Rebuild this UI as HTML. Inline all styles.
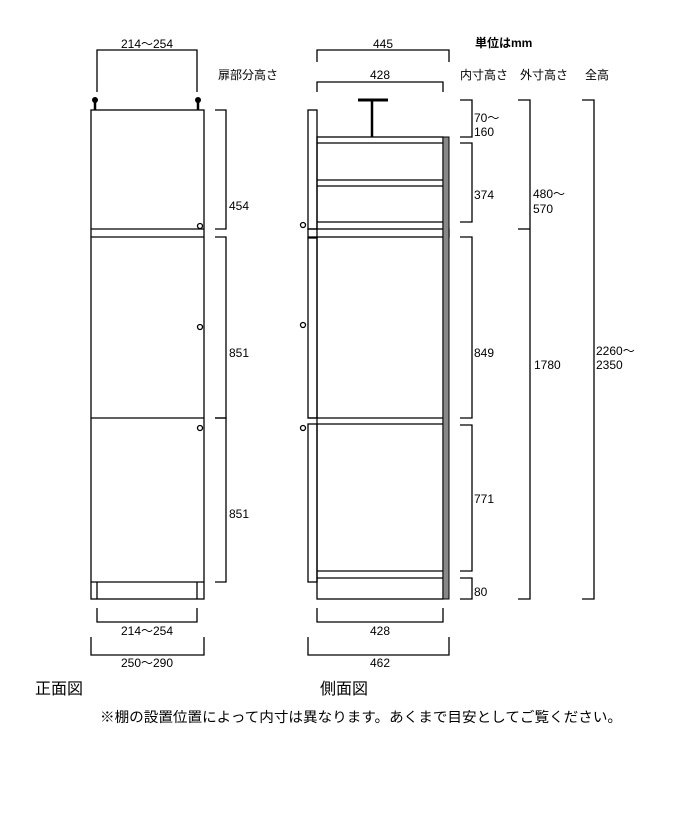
<!DOCTYPE html>
<html><head><meta charset="utf-8"><style>
html,body{margin:0;padding:0;background:#fff;}
svg{display:block;}
text{font-family:"Liberation Sans","Noto Sans CJK JP",sans-serif;font-size:12px;fill:#000;}
</style></head><body>
<svg width="700" height="830" viewBox="0 0 700 830" xmlns="http://www.w3.org/2000/svg">
<g fill="none" stroke="#000" stroke-width="1.3">
<rect x="91" y="110" width="113" height="489"/>
<line x1="91" y1="229" x2="204" y2="229"/>
<line x1="91" y1="237" x2="204" y2="237"/>
<line x1="91" y1="418" x2="204" y2="418"/>
<line x1="91" y1="582" x2="204" y2="582"/>
<line x1="97" y1="582" x2="97" y2="599"/>
<line x1="197" y1="582" x2="197" y2="599"/>
<circle cx="200" cy="226" r="2.5"/>
<circle cx="200" cy="327" r="2.5"/>
<circle cx="200" cy="428" r="2.5"/>
<polyline points="97,92 97,50 197,50 197,92"/>
<polyline points="215,110 226,110 226,229 215,229"/>
<polyline points="215,237 226,237 226,418 215,418"/>
<polyline points="215,418 226,418 226,582 215,582"/>
<polyline points="97,608 97,622 197,622 197,608"/>
<polyline points="91,637 91,655 204,655 204,637"/>

<rect x="308" y="110" width="9" height="119"/>
<rect x="308" y="238" width="9" height="180"/>
<rect x="308" y="424" width="9" height="158"/>
<rect x="317" y="137" width="126" height="462"/>
<line x1="317" y1="143" x2="443" y2="143"/>
<line x1="317" y1="180" x2="443" y2="180"/>
<line x1="317" y1="186" x2="443" y2="186"/>
<line x1="317" y1="222" x2="443" y2="222"/>
<rect x="308" y="229" width="141" height="8"/>
<line x1="308" y1="418" x2="443" y2="418"/>
<line x1="317" y1="424" x2="443" y2="424"/>
<line x1="317" y1="571" x2="443" y2="571"/>
<line x1="317" y1="578" x2="443" y2="578"/>
<circle cx="303" cy="225" r="2.5"/>
<circle cx="303" cy="325" r="2.5"/>
<circle cx="303" cy="428" r="2.5"/>
<polyline points="317,62 317,50 449,50 449,62"/>
<polyline points="317,92 317,82 443,82 443,92"/>
<polyline points="317,608 317,622 443,622 443,608"/>
<polyline points="308,637 308,655 449,655 449,637"/>
<polyline points="460,100 472,100 472,137 460,137"/>
<polyline points="460,143 472,143 472,222 460,222"/>
<polyline points="460,237 472,237 472,418 460,418"/>
<polyline points="460,425 472,425 472,571 460,571"/>
<polyline points="460,578 472,578 472,599 460,599"/>
<polyline points="518,100 530,100 530,599 518,599"/>
<line x1="518" y1="229" x2="530" y2="229"/>
<polyline points="582,100 594,100 594,599 582,599"/>
</g>
<rect x="443" y="137" width="6" height="462" fill="#888" stroke="#000" stroke-width="1"/>
<line x1="358" y1="100" x2="388" y2="100" stroke="#000" stroke-width="3"/>
<line x1="372" y1="100" x2="372" y2="137" stroke="#000" stroke-width="2.5"/>
<line x1="95" y1="100" x2="95" y2="110" stroke="#000" stroke-width="2.5"/>
<line x1="198" y1="100" x2="198" y2="110" stroke="#000" stroke-width="2.5"/>
<circle cx="95" cy="100" r="3" fill="#000"/>
<circle cx="198" cy="100" r="3" fill="#000"/>

<text x="147" y="48" text-anchor="middle">214～254</text>
<text x="218" y="79">扉部分高さ</text>
<text x="229" y="210">454</text>
<text x="229" y="357">851</text>
<text x="229" y="518">851</text>
<text x="147" y="635" text-anchor="middle">214～254</text>
<text x="147" y="667" text-anchor="middle">250～290</text>

<text x="383" y="48" text-anchor="middle">445</text>
<text x="475" y="47" style="font-weight:bold">単位はmm</text>
<text x="380" y="79" text-anchor="middle">428</text>
<text x="460" y="79">内寸高さ</text>
<text x="520" y="79">外寸高さ</text>
<text x="585" y="79">全高</text>
<text x="474" y="122">70～</text>
<text x="474" y="136">160</text>
<text x="474" y="199">374</text>
<text x="533" y="198">480～</text>
<text x="533" y="213">570</text>
<text x="474" y="357">849</text>
<text x="534" y="369">1780</text>
<text x="596" y="355">2260～</text>
<text x="596" y="369">2350</text>
<text x="474" y="503">771</text>
<text x="474" y="596">80</text>
<text x="380" y="635" text-anchor="middle">428</text>
<text x="380" y="667" text-anchor="middle">462</text>

<text x="35" y="694" style="font-size:16px">正面図</text>
<text x="320" y="694" style="font-size:16px">側面図</text>
<text x="100" y="722" style="font-size:14px" textLength="522" lengthAdjust="spacingAndGlyphs">※棚の設置位置によって内寸は異なります。あくまで目安としてご覧ください。</text>
</svg>
</body></html>
